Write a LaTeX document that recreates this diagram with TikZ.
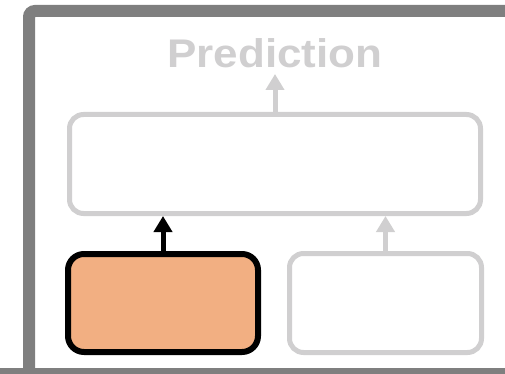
\documentclass[tikz,border=0pt]{standalone}
\usepackage{fontspec}
\setmainfont{Liberation Sans}
\usetikzlibrary{arrows.meta}
\definecolor{framegray}{HTML}{7F7F7F}
\definecolor{fadegray}{HTML}{D0CFD0}
\definecolor{tokenorange}{HTML}{F2AF82}
\tikzset{
  fadebox/.style={draw=fadegray, line width=5pt, rounded corners=14pt, fill=white, inner sep=0pt},
  activebox/.style={draw=black, line width=6pt, rounded corners=16pt, fill=tokenorange, inner sep=0pt},
  flow/.style={line width=5pt, -{Triangle[width=18pt,length=16pt]}},
}
\begin{document}
\begin{tikzpicture}[x=1pt, y=-1pt]
  \useasboundingbox (0,0) rectangle (505,374);
  \clip (0,0) rectangle (505,374);
  % outer frame, running off the right and bottom edges
  \draw[framegray, line width=12pt, rounded corners=6pt] (29,374) -- (29,11) -- (530,11);
  \draw[framegray, line width=12pt] (0,374) -- (530,374);
  % layer box
  \node[fadebox, minimum width=411pt, minimum height=99pt] (layer) at (275,164) {};
  % input boxes
  \node[activebox, minimum width=190pt, minimum height=98pt] (left) at (163,303) {};
  \node[fadebox, minimum width=192pt, minimum height=99pt] (right) at (385.5,303) {};
  % output label
  \node[text=fadegray, anchor=base, inner sep=0pt, xscale=1.1,
        font=\bfseries\fontsize{40}{48}\selectfont] (pred) at (275,68) {Prediction};
  \coordinate (out) at (275,74);
  % connectors
  \draw[flow, fadegray] (layer.north) -- (out);
  \draw[flow, black] (left.north) -- (left.north |- layer.south);
  \draw[flow, fadegray] (right.north) -- (right.north |- layer.south);
\end{tikzpicture}
\end{document}
